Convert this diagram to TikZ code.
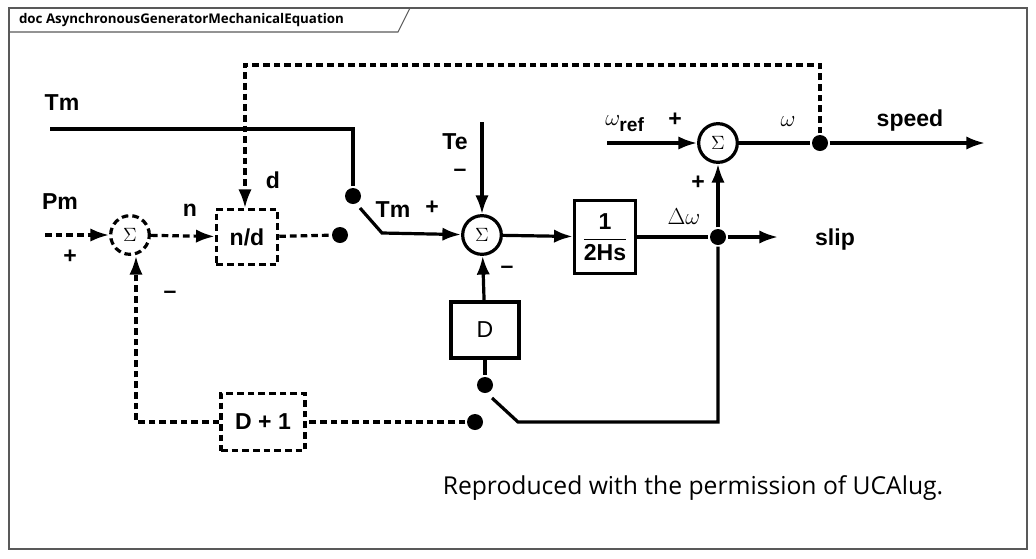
\documentclass[tikz,border=0pt]{standalone}
\usepackage{fontspec}
\setmainfont{Liberation Sans}
\newfontfamily\notefont{Open Sans}
\usetikzlibrary{positioning, arrows.meta}

\begin{document}
\begin{tikzpicture}[x=0.75pt, y=-0.75pt, line width=2.4pt, >={Latex[length=14pt, width=10pt]},
	sm/.style={circle, draw, minimum size=29pt, inner sep=0pt, font=\rmfamily\Large},
	bx/.style={draw, inner sep=0pt, font=\bfseries\LARGE},
	dsh/.style={dash pattern=on 5pt off 3pt},
	dt/.style={circle, fill, inner sep=0pt, minimum size=12pt},
	lb/.style={font=\bfseries\LARGE}]
	\useasboundingbox (0,0) rectangle (1036,558);
	% frame
	\draw[line width=0.8pt, gray!70!black] (9,8) rectangle (1027,549);
	\draw[line width=0.8pt, gray!70!black] (9,32) -- (398,32) -- (410,8);
	\node[anchor=west, font=\notefont\bfseries] (title) at (13,20) {doc AsynchronousGeneratorMechanicalEquation};

	% blocks
	\node[sm] (S1) at (482,235) {$\Sigma$};
	\node[sm] (S2) at (718,143) {$\Sigma$};
	\node[sm, dsh] (S0) at (130,235) {$\Sigma$};
	\node[bx, minimum width=46pt, minimum height=55pt] (H) at (605,237) {$\displaystyle\frac{\mathbf{1}}{\mathbf{2Hs}}$};
	\node[bx, font=\LARGE, minimum width=51pt, minimum height=42pt] (D) at (485,330) {D};
	\node[bx, dsh, minimum width=46pt, minimum height=41pt] (ND) at (247,237) {n/d};
	\node[bx, dsh, minimum width=63pt, minimum height=43pt] (D1) at (263,422) {D + 1};

	% points
	\coordinate (tmin) at (50,129);
	\coordinate (tmc) at (353,129);
	\node[dt] (sw1) at (353,196) {};
	\coordinate (bl1) at (360,208);
	\coordinate (bl1b) at (382,233);
	\coordinate (tein) at (482,122);
	\node[dt] (jw) at (718,237) {};
	\coordinate (slip) at (778,237);
	\coordinate (wrin) at (607,143);
	\node[dt] (jo) at (820,143) {};
	\coordinate (spd) at (985,143);
	\coordinate (fb1) at (820,65);
	\coordinate (fb2) at (245,65);
	\coordinate (pmin) at (45,235);
	\node[dt] (sw0) at (340,235) {};
	\node[dt] (sw2) at (485,385) {};
	\coordinate (bl2) at (492,398);
	\coordinate (bl2b) at (518,422);
	\coordinate (bl2c) at (718,422);
	\node[dt] (sw3) at (475,422) {};
	\coordinate (fb3) at (136,422);

	% solid paths
	\draw (tmin) -- (tmc) -- (sw1);
	\draw[->] (bl1) -- (bl1b) -- (S1);
	\draw[->] (tein) -- (S1);
	\draw[->] (S1) -- (H);
	\draw (H) -- (jw);
	\draw[->] (jw) -- (slip);
	\draw[->] (jw) -- (S2);
	\draw[->] (wrin) -- (S2);
	\draw (S2) -- (jo);
	\draw[->] (jo) -- (spd);
	\draw[->] (D) -- (S1);
	\draw (D) -- (sw2);
	\draw (bl2) -- (bl2b) -- (bl2c) -- (jw);

	% dashed paths
	\draw[dsh, ->] (jo) -- (fb1) -- (fb2) -- (ND.north -| fb2);
	\draw[dsh, ->] (pmin) -- (S0);
	\draw[dsh, ->] (S0) -- (ND);
	\draw[dsh] (ND) -- (sw0);
	\draw[dsh] (sw3) -- (D1);
	\draw[dsh, ->] (D1) -- (fb3) -- (S0.south -| fb3);

	% labels
	\node[lb] (l_tm) at (62,103) {Tm};
	\node[lb] (l_pm) at (60,202) {Pm};
	\node[lb] (l_tm2) at (393,210) {Tm};
	\node[lb] (l_p1) at (432,208) {+};
	\node[lb] (l_te) at (455,142) {Te};
	\node[lb] (l_m1) at (460,173) {--};
	\node[lb] (l_m2) at (507,270) {--};
	\node[lb] (l_p0) at (70,257) {+};
	\node[lb] (l_m0) at (170,295) {--};
	\node[lb] (l_n) at (190,210) {n};
	\node[lb] (l_d) at (273,180) {d};
	\node[font=\LARGE] (l_dw) at (684,217) {$\Delta\omega$};
	\node[lb] (l_slip) at (835,240) {slip};
	\node[lb] (l_p2) at (698,183) {+};
	\node[font=\LARGE] (l_wr) at (625,124) {$\omega_{\textbf{\Large ref}}$};
	\node[lb] (l_p3) at (675,120) {+};
	\node[font=\LARGE] (l_w) at (788,122) {$\omega$};
	\node[lb] (l_spd) at (910,121) {speed};
	\node[font=\notefont\fontsize{18.5}{22}\selectfont] (note) at (693,488) {Reproduced with the permission of UCAlug.};
\end{tikzpicture}
\end{document}
